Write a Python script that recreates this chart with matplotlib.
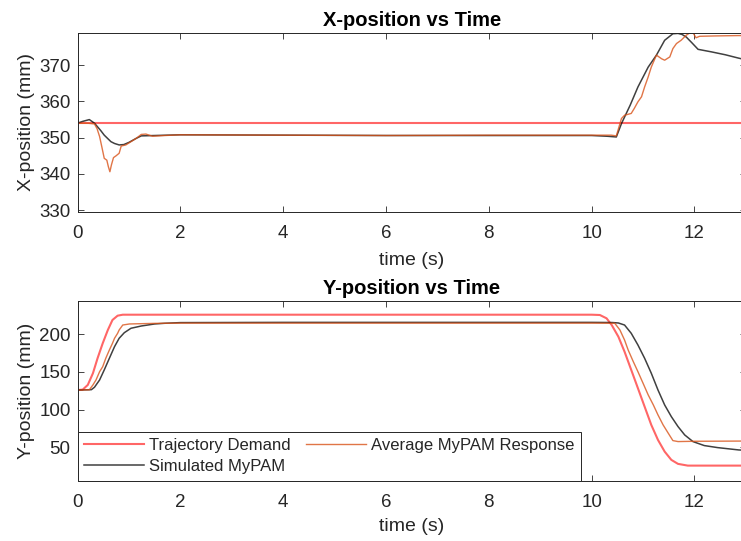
import numpy as np
import matplotlib.pyplot as plt

plt.rcParams['font.family'] = ['Liberation Sans', 'DejaVu Sans']

# ----- data -----
# X-position (mm)
t_x_demand = [0, 13]
x_demand = [354, 354]

t_x_sim = [0, 0.1, 0.23, 0.33, 0.45, 0.52, 0.65, 0.72, 0.81, 0.9, 1.0, 1.14, 1.24,
           1.5, 2.0, 4, 6, 8, 10, 10.3, 10.48, 10.58, 10.75, 10.9, 11.1, 11.26,
           11.42, 11.58, 11.68, 11.76, 11.84, 11.95, 12.07, 12.33, 12.6, 12.85, 13]
x_sim = [354, 354.5, 355.0, 354.0, 352.0, 350.7, 348.9, 348.4, 348.0, 348.1, 348.7,
         349.8, 350.5, 350.6, 350.8, 350.7, 350.6, 350.6, 350.6, 350.4, 350.2, 353.9,
         359, 364, 369.5, 372.8, 376.9, 378.7, 378.8, 378.5, 377.8, 376.2, 374.4,
         373.7, 372.9, 372.0, 371.5]

t_x_avg = [0, 0.2, 0.33, 0.38, 0.43, 0.48, 0.52, 0.57, 0.60, 0.63, 0.66, 0.70, 0.75,
           0.81, 0.85, 0.94, 1.04, 1.14, 1.24, 1.33, 1.46, 1.7, 2.0, 4, 6, 8, 10,
           10.38, 10.48, 10.58, 10.64, 10.77, 10.83, 10.90, 10.97, 11.03, 11.10,
           11.16, 11.26, 11.36, 11.42, 11.52, 11.58, 11.65, 11.74, 11.84, 11.94,
           11.97, 12.03, 12.10, 12.4, 12.85, 13]
x_avg = [354, 354, 353.8, 352.5, 350.3, 347, 344.3, 343.8, 342, 340.6, 342.5, 344.5,
         345, 345.7, 347.7, 348, 348.9, 349.8, 350.9, 351.0, 350.4, 350.6, 350.8,
         350.7, 350.6, 350.7, 350.7, 350.7, 350.5, 355.3, 356.2, 356.7, 358.1, 359.9,
         361.3, 364, 366.8, 369.5, 372.8, 371.8, 371.4, 372.3, 374.6, 376, 376.9,
         378.3, 379.2, 379, 377.6, 378, 378.1, 378.2, 378.2]

# Y-position (mm)
t_y_demand = [0, 0.10, 0.20, 0.30, 0.39, 0.49, 0.59, 0.68, 0.78, 0.88, 1.0, 10.0,
              10.16, 10.29, 10.39, 10.52, 10.64, 10.77, 10.90, 11.03, 11.16, 11.29,
              11.42, 11.55, 11.68, 11.87, 13]
y_demand = [126, 126.5, 132.8, 148.3, 168.2, 188, 205.7, 219, 224.7, 226, 226, 226,
            225.6, 221.2, 212.3, 196.8, 176.9, 152.7, 128.4, 104, 79.7, 59.8, 44.3,
            33.3, 28, 25.7, 25.7]

t_y_sim = [0, 0.27, 0.33, 0.43, 0.52, 0.62, 0.72, 0.81, 0.91, 1.04, 1.24, 1.5, 1.69,
           2.0, 4, 6, 8, 10, 10.4, 10.52, 10.64, 10.77, 10.90, 11.03, 11.16, 11.29,
           11.42, 11.55, 11.68, 11.81, 11.97, 12.19, 12.45, 12.86, 13]
y_sim = [126, 126.5, 129.7, 139.4, 152.7, 168.2, 183.6, 194.7, 202.1, 208, 211,
         213.7, 214.6, 215.5, 215.8, 215.8, 215.8, 215.8, 215.6, 215, 212.3, 201.3,
         185.8, 168.2, 148.3, 126.1, 106.2, 90.7, 77.5, 66.4, 57.6, 52.3, 49.6,
         46.5, 46]

t_y_avg = [0, 0.23, 0.30, 0.36, 0.43, 0.49, 0.55, 0.62, 0.68, 0.72, 0.78, 0.81, 0.88,
           1.01, 1.5, 2, 4, 6, 8, 10, 10.45, 10.55, 10.64, 10.71, 10.81, 10.90,
           11.00, 11.10, 11.20, 11.29, 11.39, 11.49, 11.58, 11.68, 12, 13]
y_avg = [126, 126.3, 132.8, 139.4, 150.4, 157, 168.2, 179.2, 188, 194.7, 201.3,
         205.7, 212.3, 213.7, 214.5, 214.8, 214.8, 214.8, 214.8, 214.8, 214.6, 205.7,
         192.4, 179.2, 163.7, 150.4, 135, 119.5, 106.2, 93, 79.7, 68.7, 58.9, 57.6,
         58, 58.3]

labels = ['Trajectory Demand', 'Simulated MyPAM', 'Average MyPAM Response']

TXT = '#262626'
RED = '#ff0000'
ORANGE = '#d95319'
BLACK = '#000000'


def style_axes(ax, yticks):
    ax.set_xlim(0, 13)
    ax.set_xticks(np.arange(0, 13, 2))
    ax.set_yticks(yticks)
    ax.tick_params(direction='in', top=True, right=True, length=4, width=0.6,
                   color=TXT, labelcolor=TXT, labelsize=13.5)
    ax.tick_params(axis='x', pad=9.5)
    ax.tick_params(axis='y', pad=5)
    for sp in ax.spines.values():
        sp.set_color(TXT)
        sp.set_linewidth(0.7)


fig = plt.figure(figsize=(7.41, 5.41), dpi=100)
ax1 = fig.add_axes([0.1046, 0.6076, 0.902, 0.332])
ax2 = fig.add_axes([0.1046, 0.1115, 0.902, 0.3327])

# ----- X-position -----
ax1.plot(t_x_demand, x_demand, color=RED, lw=1.5, alpha=0.6)
ax1.plot(t_x_sim, x_sim, color=BLACK, lw=1.1, alpha=0.75)
ax1.plot(t_x_avg, x_avg, color=ORANGE, lw=1.0, alpha=0.8)
ax1.set_ylim(329.4, 379)
style_axes(ax1, [330, 340, 350, 360, 370])
ax1.set_title('X-position vs Time', fontsize=14.5, fontweight='bold', pad=5)
ax1.set_xlabel('time (s)', fontsize=14, color=TXT, labelpad=7)
ax1.set_ylabel('X-position (mm)', fontsize=14, color=TXT, labelpad=3)

# ----- Y-position -----
l1, = ax2.plot(t_y_demand, y_demand, color=RED, lw=1.5, alpha=0.6)
l2, = ax2.plot(t_y_sim, y_sim, color=BLACK, lw=1.1, alpha=0.75)
l3, = ax2.plot(t_y_avg, y_avg, color=ORANGE, lw=1.0, alpha=0.8)
ax2.set_ylim(5.7, 244.6)
style_axes(ax2, [50, 100, 150, 200])
ax2.set_title('Y-position vs Time', fontsize=14.5, fontweight='bold', pad=5)
ax2.set_xlabel('time (s)', fontsize=14, color=TXT, labelpad=5)
ax2.set_ylabel('Y-position (mm)', fontsize=14, color=TXT, labelpad=3)

leg = ax2.legend([l1, l2, l3], labels, ncol=2, loc='lower left',
                 bbox_to_anchor=(0, 0), borderaxespad=0, fontsize=12,
                 handlelength=3.6, handletextpad=0.3, columnspacing=0.9,
                 labelspacing=0.35, borderpad=0.4, fancybox=False, framealpha=1)
leg.get_frame().set_edgecolor(TXT)
leg.get_frame().set_linewidth(0.7)
for txt in leg.get_texts():
    txt.set_color(TXT)

fig.savefig('out.png', dpi=100)
